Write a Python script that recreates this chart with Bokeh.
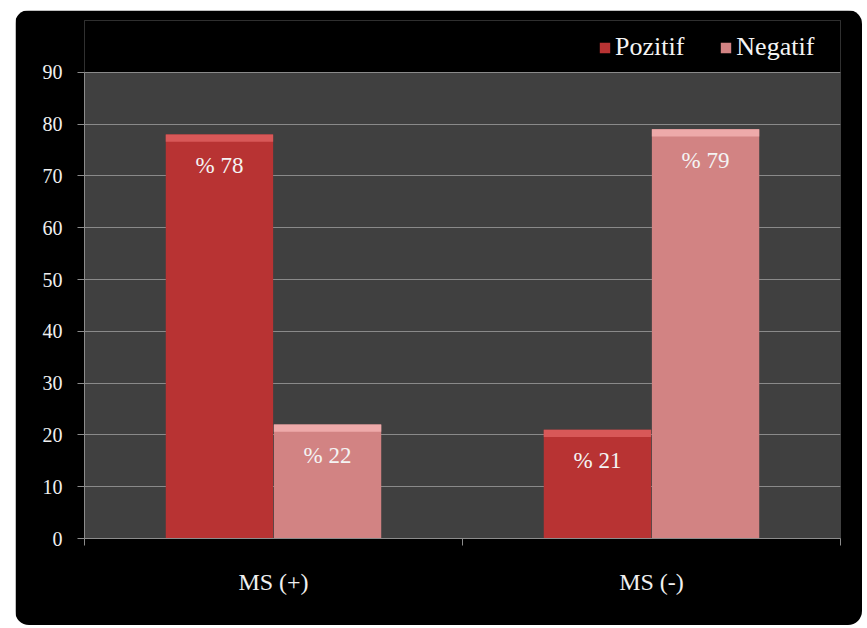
from bokeh.plotting import figure
from bokeh.models import ColumnDataSource, FixedTicker, Legend, LegendItem, Range1d
from bokeh.core.properties import value
from bokeh.embed import file_html
from bokeh.resources import INLINE

categories = ["MS (+)", "MS (-)"]
series_names = ["Pozitif", "Negatif"]
pozitif = [78, 21]
negatif = [22, 79]
y_ticks = [0, 10, 20, 30, 40, 50, 60, 70, 80, 90]
y_max = 90
y_top = 100  # room above the plot area for the legend

colors = {"Pozitif": "#b83333", "Negatif": "#d28383"}
tops = {"Pozitif": "#d85858", "Negatif": "#eeaaaa"}
offsets = {"Pozitif": -0.143, "Negatif": 0.143}
BAR_W = 0.284
FONT = "Liberation Serif"

p = figure(width=847, height=615, output_backend="svg", toolbar_location=None,
           x_range=Range1d(0, len(categories)), y_range=Range1d(0, y_top),
           min_border_left=69, min_border_top=10, min_border_right=22, min_border_bottom=87)
p.margin = (10, 0, 0, 15)
p.styles = {"border-radius": "14px", "overflow": "hidden"}
p.border_fill_color = "#000000"
p.background_fill_color = "#000000"
p.outline_line_color = None

# grey plot area (0..90) and black strip above it
p.quad(left=0, right=len(categories), bottom=0, top=y_max,
       fill_color="#404040", line_color=None)
p.quad(left=0, right=len(categories), bottom=y_max, top=y_top,
       fill_color="#000000", line_color=None)
# gridlines
p.hspan(y=y_ticks, line_color="#8a8a8a", line_width=1)

items = []
for name, vals in (("Pozitif", pozitif), ("Negatif", negatif)):
    xs = [i + 0.5 + offsets[name] for i in range(len(categories))]
    src = ColumnDataSource(dict(x=xs, top=vals,
                                hl=[v - 1.4 for v in vals],
                                lab=["% " + str(v) for v in vals]))
    r = p.vbar(x="x", top="top", bottom=0, width=BAR_W, source=src,
               fill_color=colors[name], line_color=None)
    p.vbar(x="x", top="top", bottom="hl", width=BAR_W, source=src,
           fill_color=tops[name], line_color=None)
    p.text(x="x", y="top", text="lab", source=src, text_align="center",
           text_baseline="middle", y_offset=31, text_color="#f4f4f4",
           text_font=value(FONT), text_font_size="23px")
    items.append(LegendItem(label=name, renderers=[r]))

# axes
p.yaxis.ticker = FixedTicker(ticks=y_ticks)
p.yaxis.bounds = (0, y_max)
p.yaxis.major_label_text_font = FONT
p.yaxis.major_label_text_font_size = "20px"
p.yaxis.major_label_text_color = "#f0f0f0"
p.yaxis.axis_line_color = "#8c8c8c"
p.yaxis.major_tick_line_color = "#8c8c8c"
p.yaxis.major_tick_out = 7
p.yaxis.major_tick_in = 0
p.yaxis.minor_tick_line_color = None
p.yaxis.major_label_standoff = 15

p.xaxis.ticker = FixedTicker(ticks=[i + 0.5 for i in range(len(categories))],
                             minor_ticks=list(range(len(categories) + 1)))
p.xaxis.major_label_overrides = {i + 0.5: c for i, c in enumerate(categories)}
p.xaxis.major_label_text_font = FONT
p.xaxis.major_label_text_font_size = "24px"
p.xaxis.major_label_text_color = "#f0f0f0"
p.xaxis.axis_line_color = "#8c8c8c"
p.xaxis.major_tick_line_color = None
p.xaxis.minor_tick_line_color = "#8c8c8c"
p.xaxis.minor_tick_out = 7
p.xaxis.minor_tick_in = 0
p.xaxis.major_label_standoff = 23

p.xgrid.visible = False
p.ygrid.visible = False

legend = Legend(items=items, orientation="horizontal", location=(514, 476),
                background_fill_alpha=0, border_line_color=None,
                label_text_font=FONT, label_text_font_size="26px",
                label_text_color="#f4f4f4", glyph_width=13, glyph_height=13,
                label_standoff=4, spacing=35, padding=0, margin=0)
p.add_layout(legend, "center")

open("out.html", "w").write(file_html(p, INLINE))
